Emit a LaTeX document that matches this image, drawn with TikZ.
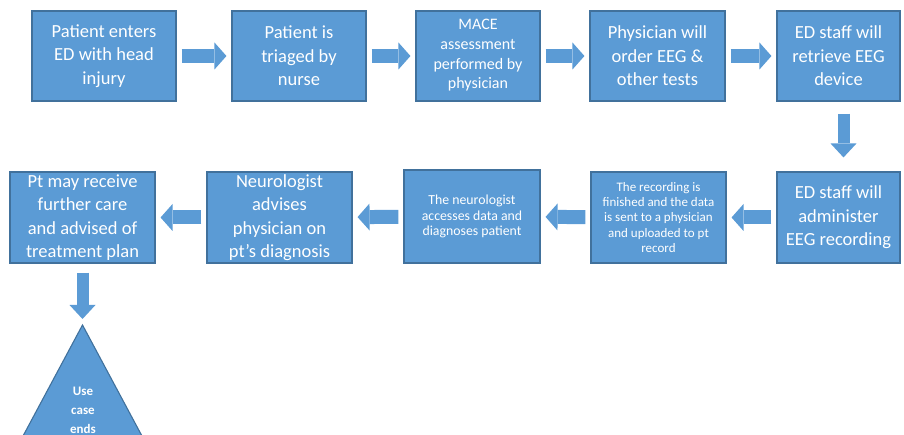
\documentclass[tikz,border=0pt]{standalone}
\usepackage{fontspec}
\setmainfont{Carlito}
\usepackage{tikz}
\usetikzlibrary{arrows.meta,positioning}
\definecolor{boxfill}{HTML}{5B9BD5}
\definecolor{boxedge}{HTML}{41719C}

\begin{document}
\begin{tikzpicture}[x=1pt,y=1pt,
    stepbox/.style={draw=boxedge, line width=1.1pt, fill=boxfill, text=white,
        align=center, inner sep=0pt, minimum height=90pt},
    bigtxt/.style={font=\fontsize{18.5}{23.5}\selectfont},
    midtxt/.style={font=\fontsize{16}{19.7}\selectfont},
    smalltxt/.style={font=\fontsize{13.8}{15.5}\selectfont},
    flowright/.style={draw=boxfill, line width=14pt,
        -{Triangle[length=12pt,width=27pt,line width=0pt]},
        shorten <=5pt, shorten >=5pt},
    flowdown/.style={draw=boxfill, line width=12pt,
        -{Triangle[length=14pt,width=26pt,line width=0pt]}}]

    \useasboundingbox (0,0) rectangle (904,435);

    % top row
    \node[stepbox, bigtxt, minimum width=144pt] (enter) at (104,379) {Patient enters\\ED with head\\injury};
    \node[stepbox, bigtxt, minimum width=134pt] (triage) at (299,379) {Patient is\\triaged by\\nurse};
    \node[stepbox, midtxt, minimum width=124pt, text depth=4pt] (mace) at (478,379) {MACE\\assessment\\performed by\\physician};
    \node[stepbox, bigtxt, minimum width=135pt] (order) at (657.5,379) {Physician will\\order EEG \&\\other tests};
    \node[stepbox, bigtxt, minimum width=123pt] (retrieve) at (838.5,379) {ED staff will\\retrieve EEG\\device};

    % bottom row
    \node[stepbox, bigtxt, minimum width=123pt, minimum height=91pt] (administer) at (838.5,217.5) {ED staff will\\administer\\EEG recording};
    \node[stepbox, font=\fontsize{13}{15.2}\selectfont, minimum width=135pt, minimum height=91pt] (upload) at (658.5,217.5) {The recording is\\finished and the data\\is sent to a physician\\and uploaded to pt\\record};
    \node[stepbox, smalltxt, minimum width=136pt, minimum height=93pt] (neuro) at (472,218.5) {The neurologist\\accesses data and\\diagnoses patient};
    \node[stepbox, bigtxt, minimum width=145pt, minimum height=91pt] (advise) at (279.5,217.5) {Neurologist\\advises\\physician on\\pt’s diagnosis};
    \node[stepbox, bigtxt, minimum width=145pt, minimum height=91pt] (care) at (82.5,217.5) {Pt may receive\\further care\\and advised of\\treatment plan};

    % end of use case
    \coordinate (apex) at (82.5,110);
    \begin{scope}
    \clip (0,0) rectangle (904,435);
    \filldraw[fill=boxfill, draw=boxedge, line width=1.1pt] (apex) -- ++(-75,-140) -- ++(150,0) -- cycle;
    \end{scope}
    \node[text=white, align=center, inner sep=0pt, font=\fontsize{13}{19}\selectfont\bfseries] (endcase) at (83,25) {Use\\case\\ends};

    \draw[flowright] (enter) -- (triage);
    \draw[flowright] (triage) -- (mace);
    \draw[flowright] (mace) -- (order);
    \draw[flowright] (order) -- (retrieve);
    \draw[flowdown, shorten <=12pt, shorten >=14pt] ([xshift=5pt]retrieve.south) -- ([xshift=5pt]administer.north);
    \draw[flowright] (administer) -- (upload);
    \draw[flowright] (upload) -- (neuro);
    \draw[flowright] (neuro) -- (advise);
    \draw[flowright] (advise) -- (care);
    \draw[flowdown, shorten <=9pt, shorten >=6pt] (care) -- (apex);
\end{tikzpicture}
\end{document}
